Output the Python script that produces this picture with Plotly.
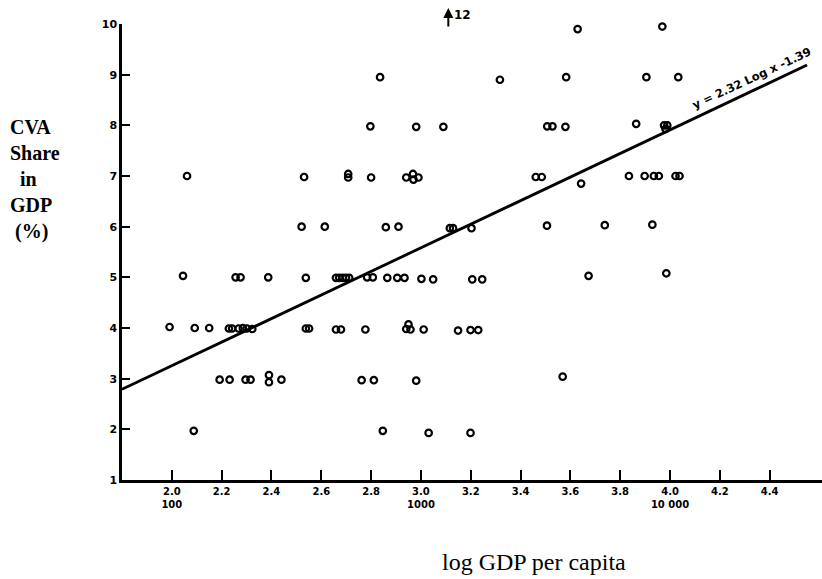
import plotly.graph_objects as go

# ---- data (x = log10 GDP per capita, y = CVA share %) ----
row10_x = [3.629, 3.969]
row10_y = [9.9, 9.95]
row9_x = [2.836, 3.317, 3.583, 3.905, 4.033]
row9_y = [8.95, 8.9, 8.95, 8.95, 8.95]
row8_x = [2.797, 2.981, 3.090, 3.507, 3.528, 3.580, 3.864, 3.976, 3.982, 3.989]
row8_y = [7.98, 7.97, 7.97, 7.98, 7.98, 7.97, 8.03, 8.0, 7.93, 8.0]
row7_x = [2.061, 2.531, 2.708, 2.708, 2.800, 2.941, 2.968, 2.990, 2.970,
          3.461, 3.485, 3.643, 3.835, 3.898, 3.935, 3.955, 4.022, 4.038]
row7_y = [7.0, 6.98, 7.04, 6.97, 6.97, 6.97, 7.04, 6.97, 6.93,
          6.98, 6.98, 6.85, 7.0, 7.0, 7.0, 7.0, 7.0, 7.0]
row6_x = [2.521, 2.614, 2.859, 2.910, 3.116, 3.129, 3.203, 3.506, 3.738, 3.929]
row6_y = [6.0, 6.0, 5.99, 6.0, 5.97, 5.97, 5.97, 6.02, 6.03, 6.04]
row5_x = [2.045, 2.256, 2.276, 2.387, 2.538, 2.659, 2.672, 2.686, 2.699, 2.712,
          2.784, 2.807, 2.865, 2.905, 2.934, 3.002, 3.049, 3.206, 3.246, 3.673, 3.985]
row5_y = [5.03, 5.0, 5.0, 5.0, 4.99, 4.99, 4.99, 4.99, 4.99, 4.99,
          5.0, 5.0, 4.99, 4.99, 4.99, 4.97, 4.96, 4.96, 4.96, 5.03, 5.08]
row4_x = [1.991, 2.092, 2.150, 2.229, 2.242, 2.268, 2.285, 2.301, 2.323,
          2.538, 2.551, 2.659, 2.679, 2.777, 2.941, 2.950, 2.958, 3.011,
          3.149, 3.199, 3.230]
row4_y = [4.02, 4.0, 4.0, 3.99, 3.99, 3.99, 4.0, 3.99, 3.98,
          3.99, 3.99, 3.97, 3.97, 3.97, 3.98, 4.07, 3.97, 3.97,
          3.95, 3.96, 3.96]
row3_x = [2.192, 2.232, 2.296, 2.316, 2.390, 2.390, 2.440, 2.762, 2.811, 2.981, 3.569]
row3_y = [2.98, 2.98, 2.98, 2.98, 3.07, 2.93, 2.98, 2.97, 2.97, 2.96, 3.04]
row2_x = [2.088, 2.847, 3.031, 3.199]
row2_y = [1.97, 1.97, 1.93, 1.93]
row1_x = [2.124, 2.350]
row1_y = [0.98, 0.98]

gdp_log = row10_x + row9_x + row8_x + row7_x + row6_x + row5_x + row4_x + row3_x + row2_x + row1_x
cva_share = row10_y + row9_y + row8_y + row7_y + row6_y + row5_y + row4_y + row3_y + row2_y + row1_y

# regression line endpoints as drawn
fit_x = [1.80, 4.55]
fit_y = [2.79, 9.19]
fit_label = "y = 2.32 Log x -1.39"

x_tickvals = [2.0, 2.2, 2.4, 2.6, 2.8, 3.0, 3.2, 3.4, 3.6, 3.8, 4.0, 4.2, 4.4]
x_ticklabels = ["2.0<br>100", "2.2", "2.4", "2.6", "2.8", "3.0<br>1000", "3.2", "3.4",
                "3.6", "3.8", "4.0<br>10 000", "4.2", "4.4"]
y_tickvals = [1, 2, 3, 4, 5, 6, 7, 8, 9, 10]
y_ticklabels = ["1", "2", "3", "4", "5", "6", "7", "8", "9", "10"]

outlier_x = 3.11
outlier_label = "12"

fig = go.Figure()
fig.add_trace(go.Scatter(
    x=fit_x, y=fit_y, mode="lines",
    line=dict(color="black", width=2.8), hoverinfo="skip", showlegend=False))
fig.add_trace(go.Scatter(
    x=gdp_log, y=cva_share, mode="markers",
    marker=dict(symbol="circle-open", size=6.5, color="black", line=dict(width=2.2)),
    showlegend=False, cliponaxis=False))

fig.add_annotation(x=4.33, y=8.93, xref="x", yref="y", text="<b>" + fit_label + "</b>",
                   textangle=-25, showarrow=False,
                   font=dict(family="DejaVu Sans", size=11.5, color="black"))
# off-chart outlier arrow (value 12, above the axis top)
fig.add_annotation(x=outlier_x, y=1.035, xref="x", yref="paper",
                   ax=0, ay=20, text="", showarrow=True,
                   arrowhead=2, arrowsize=1, arrowwidth=2, arrowcolor="black")
fig.add_annotation(x=outlier_x + 0.015, y=1.02, xref="x", yref="paper", xanchor="left",
                   yanchor="middle", text="<b>" + outlier_label + "</b>", showarrow=False,
                   font=dict(family="DejaVu Sans", size=12, color="black"))

fig.add_annotation(x=-0.163, y=0.66, xref="paper", yref="paper", xanchor="left",
                   yanchor="middle", align="left", showarrow=False,
                   text="<b>CVA<br>Share<br>&nbsp;&nbsp;in<br>GDP<br>&nbsp;(%)</b>",
                   font=dict(family="Liberation Serif", size=20, color="black"))
fig.add_annotation(x=0.589, y=-0.18, xref="paper", yref="paper", xanchor="center",
                   yanchor="middle", showarrow=False, text="log GDP per capita",
                   font=dict(family="Liberation Serif", size=24, color="black"))

fig.update_xaxes(range=[1.80, 4.61], showgrid=False, zeroline=False,
                 showline=True, linecolor="black", linewidth=2.5,
                 ticks="inside", ticklen=10, tickwidth=1.5, tickcolor="black",
                 tickvals=x_tickvals,
                 ticktext=["<b>" + t.replace("<br>", "</b><br><b>") + "</b>" for t in x_ticklabels],
                 tickfont=dict(family="DejaVu Sans", size=10, color="black"))
fig.update_yaxes(range=[1, 10], showgrid=False, zeroline=False,
                 showline=True, linecolor="black", linewidth=2.5,
                 ticks="inside", ticklen=8, tickwidth=2, tickcolor="black",
                 tickvals=y_tickvals, ticktext=["<b>" + t + "</b>" for t in y_ticklabels],
                 tickfont=dict(family="DejaVu Sans", size=11, color="black"))

fig.update_layout(width=822, height=579, margin=dict(l=122, r=0, t=24, b=99),
                  plot_bgcolor="white", paper_bgcolor="white", showlegend=False)

# remove the default 8px page margin so the figure fills the window exactly
fig.write_html("out.html", config={"displayModeBar": False},
               post_script="document.body.style.margin='0px';document.body.style.overflow='hidden';")
